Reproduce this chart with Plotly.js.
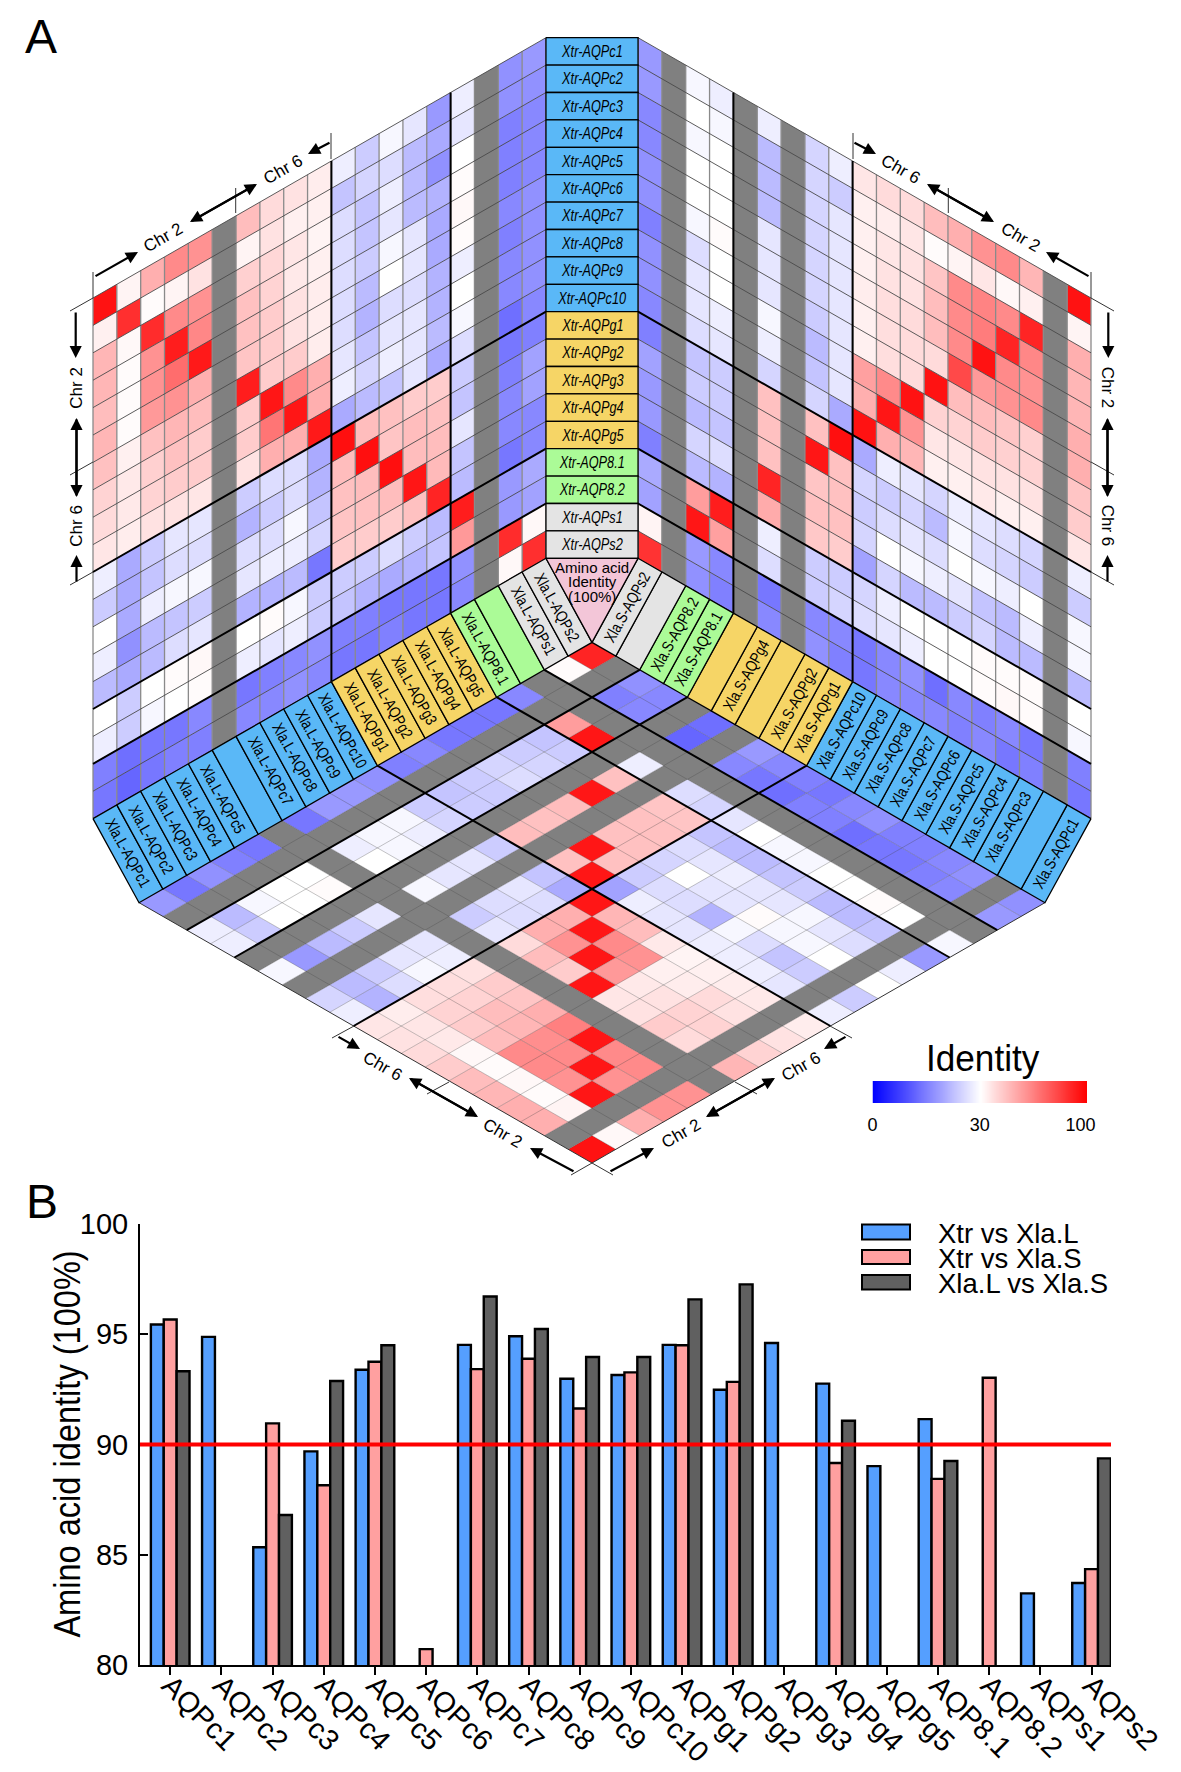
<!DOCTYPE html>
<html><head><meta charset="utf-8">
<script src="https://cdn.plot.ly/plotly-3.0.1.min.js"></script>
<style>html,body{margin:0;padding:0;background:#fff}#c{width:1181px;height:1772px}</style></head>
<body><div id="c"></div>
<script>
var n = null;
var genes = ['AQPc1','AQPc2','AQPc3','AQPc4','AQPc5','AQPc6','AQPc7','AQPc8','AQPc9','AQPc10','AQPg1','AQPg2','AQPg3','AQPg4','AQPg5','AQP8.1','AQP8.2','AQPs1','AQPs2'];
var barXtrL = [95.44,94.88,85.34,89.69,93.39,n,94.52,94.91,92.98,93.15,94.52,92.48,94.6,92.76,89.02,91.15,n,83.25,83.72];
var barXtrS = [95.67,n,90.96,88.15,93.75,80.72,93.42,93.89,91.63,93.27,94.5,92.84,n,89.16,n,88.44,93.03,n,84.35];
var barLS   = [93.32,n,86.8,92.88,94.5,n,96.71,95.24,93.97,93.97,96.58,97.26,n,91.08,n,89.25,n,n,89.37];
var threshold = 90;
var blankL = ['AQPc6','AQP8.2'];
var blankS = ['AQPc2','AQPg3','AQPg5','AQPs1'];

// Xtr (rows) vs Xla.L (columns), listed column by column
var leftCols = [
[95,34,50,50,48,50,47,42,40,37,28,24,30,28,22,30,28,15,14],
[33,87,32,31,31,31,34,36,36,35,20,20,20,17,20,24,24,13,12],
[52,31,88,60,60,58,47,43,42,38,24,23,28,22,22,30,29,14,14],
[62,33,62,92,70,60,50,47,44,38,27,26,29,23,26,31,30,14,15],
[60,38,60,63,93,52,48,44,44,37,27,26,29,24,27,32,31,16,15],
n,
[48,33,43,47,47,46,92,44,44,38,24,21,26,27,21,30,28,14,16],
[40,38,41,42,44,44,44,94,68,52,26,24,26,28,21,31,27,15,16],
[38,34,37,36,38,38,44,62,94,52,26,26,29,28,22,29,28,16,17],
[35,34,33,34,35,35,35,52,52,93,20,21,23,25,14,24,24,17,16],
[28,23,26,26,26,26,26,27,28,20,96,48,47,46,44,24,23,15,14],
[24,25,23,23,24,22,21,23,25,22,48,96,48,47,44,24,21,15,14],
[29,26,28,27,29,30,26,27,28,23,47,46,96,48,44,26,20,14,15],
[27,22,22,22,27,27,26,27,27,27,44,48,48,94,47,24,21,14,14],
[18,20,17,21,20,20,21,21,22,20,44,47,48,49,90,22,23,14,14],
[28,27,30,31,32,31,28,30,29,26,24,23,27,23,22,92,58,17,16],
n,
[17,17,15,15,15,16,15,16,16,13,14,15,16,16,14,18,18,88,32],
[18,17,16,16,16,17,17,17,17,16,15,19,19,16,16,20,19,32,87]];

// Xtr (rows) vs Xla.S (columns), listed column by column
var rightCols = [
[95,33,52,50,50,52,52,46,44,37,28,24,29,29,22,30,29,15,14],
n,
[50,34,90,63,60,62,43,42,38,34,25,24,30,28,22,31,31,14,15],
[62,32,62,90,62,60,46,43,38,34,26,25,28,22,22,31,32,16,14],
[60,37,64,66,95,58,48,44,38,36,27,26,29,23,25,31,31,15,16],
[52,33,62,62,62,80,48,42,37,34,28,29,30,27,24,30,30,16,15],
[48,31,46,48,48,40,95,42,37,34,25,22,26,28,22,30,30,13,16],
[40,37,38,38,40,40,40,95,60,50,27,25,27,29,22,30,28,17,16],
[40,35,37,38,39,39,39,62,94,52,28,24,26,30,25,28,27,16,16],
[37,34,34,34,35,34,34,56,52,95,20,25,24,25,19,25,26,14,14],
[28,24,27,27,27,27,27,27,27,20,96,47,47,47,44,24,25,16,15],
[25,25,25,25,25,25,24,22,23,25,47,94,46,47,45,24,24,16,17],
n,
[28,22,22,22,27,27,27,29,28,25,47,47,47,90,53,28,26,14,16],
n,
[28,29,30,30,30,31,30,30,28,27,24,24,23,26,21,92,56,16,15],
[29,30,29,30,30,29,26,27,27,26,23,24,22,25,22,57,94,18,17],
n,
[18,18,16,16,17,17,15,17,17,16,15,19,18,18,15,20,19,33,86]];

// Xla.L (rows) vs Xla.S (columns)
var bottomRows = [
[95,n,52,52,50,48,44,40,38,37,28,25,n,29,n,28,28,n,18],
[32,n,33,31,32,31,32,36,37,35,21,22,n,18,n,24,22,n,14],
[52,n,94,60,62,62,48,44,42,39,26,24,n,22,n,30,29,n,17],
[60,n,60,94,62,61,50,48,42,39,29,27,n,24,n,30,30,n,15],
[60,n,62,62,94,65,52,46,44,38,28,27,n,27,n,31,30,n,14],
n,
[50,n,40,44,38,37,94,44,48,40,27,24,n,29,n,30,28,n,14],
[42,n,42,42,38,36,58,94,60,52,26,26,n,27,n,29,29,n,18],
[38,n,38,40,35,34,60,62,94,52,26,27,n,27,n,28,29,n,18],
[35,n,36,35,34,33,36,48,50,94,20,23,n,24,n,25,24,n,17],
[28,n,27,28,28,28,27,27,28,19,94,47,n,48,n,24,23,n,15],
[24,n,24,23,26,29,21,26,26,24,47,94,n,47,n,24,24,n,16],
[30,n,30,29,29,31,27,27,30,25,47,47,n,48,n,26,25,n,14],
[28,n,26,27,29,27,27,28,27,26,47,47,n,94,n,25,24,n,14],
[18,n,23,22,22,24,23,22,22,23,46,46,n,47,n,24,23,n,14],
[29,n,30,31,30,30,29,29,30,27,25,26,n,28,n,94,57,n,16],
n,
[18,n,16,15,14,14,13,15,15,13,14,16,n,12,n,16,15,n,31],
[17,n,17,16,15,15,17,16,14,15,16,18,n,13,n,16,17,n,90]];

var scaleStops = [0,3,6,9,12,15,18,21,24,27,30,37,44,51,58,65,72,79,86,93,100];
var scaleLabels = ['0','30','100'];

// ---- projection of matrix indices on the page (isometric faces)
var N = genes.length, dx = 23.84, hs = 13.7, rowH = 27.4, mid = 592;
function leftPt(c,r){ return [93+c*dx, 298-c*hs+r*rowH]; }
function rightPt(c,r){ return [2*mid-93-c*dx, 298-c*hs+r*rowH]; }
function botPt(i,j){ return [mid+(i-j)*dx, 1163-(i+j)*hs]; }
function colorOf(v){
  if(v===null) return '#808080';
  if(v<=30){ var a=Math.round(255*v/30); return 'rgb('+a+','+a+',255)'; }
  var b=Math.round(255*(1-(v-30)/70)); return 'rgb(255,'+b+','+b+')';
}
function grpColor(k){ return k<10?'#5AB8F7':k<15?'#F6D566':k<17?'#ABFB97':'#E4E4E4'; }
var FONT='"Liberation Sans", Arial, sans-serif';

var buckets = {};
function addPoly(key,pts){
  var b = buckets[key] || (buckets[key]={x:[],y:[]});
  pts.forEach(function(p){b.x.push(p[0]);b.y.push(p[1]);});
  b.x.push(pts[0][0],null); b.y.push(pts[0][1],null);
}
for(var c=0;c<N;c++) for(var r=0;r<N;r++){
  var lv = leftCols[c]?leftCols[c][r]:null, rv = rightCols[c]?rightCols[c][r]:null;
  addPoly(colorOf(lv),[leftPt(c,r),leftPt(c+1,r),leftPt(c+1,r+1),leftPt(c,r+1)]);
  addPoly(colorOf(rv),[rightPt(c,r),rightPt(c+1,r),rightPt(c+1,r+1),rightPt(c,r+1)]);
  var bv = bottomRows[c]?bottomRows[c][r]:null;
  addPoly(colorOf(bv),[botPt(c,r),botPt(c+1,r),botPt(c+1,r+1),botPt(c,r+1)]);
}
var traces = [];
Object.keys(buckets).forEach(function(k){
  traces.push({type:'scatter',mode:'lines',x:buckets[k].x,y:buckets[k].y,fill:'toself',fillcolor:k,
    line:{width:0,color:k,simplify:false},hoverinfo:'skip',showlegend:false});
});
function lineTrace(segs,color,w){
  var x=[],y=[];
  segs.forEach(function(s){ s.forEach(function(p){x.push(p[0]);y.push(p[1]);}); x.push(null);y.push(null); });
  traces.push({type:'scatter',mode:'lines',x:x,y:y,line:{color:color,width:w,simplify:false},hoverinfo:'skip',showlegend:false});
}
var rowsSeg=[],colsSeg=[],botSeg=[],thick=[],outerB=[];
var blocks=[10,15,17];
for(var k=0;k<=N;k++){
  rowsSeg.push([leftPt(0,k),leftPt(N,k)],[rightPt(0,k),rightPt(N,k)]);
  colsSeg.push([leftPt(k,0),leftPt(k,N)],[rightPt(k,0),rightPt(k,N)]);
  if(k>0&&k<N) botSeg.push([botPt(k,0),botPt(k,N)],[botPt(0,k),botPt(N,k)]);
}
blocks.forEach(function(k){
  thick.push([leftPt(0,k),leftPt(N,k)],[rightPt(0,k),rightPt(N,k)],[botPt(k,0),botPt(k,N)],[botPt(0,k),botPt(N,k)]);
});
[10,15].forEach(function(k){ thick.push([leftPt(k,0),leftPt(k,N)],[rightPt(k,0),rightPt(k,N)]); });
outerB.push([botPt(N,0),botPt(0,0),botPt(0,N)]);
lineTrace(colsSeg,'#8a8a8a',1.3);
lineTrace(rowsSeg,'#4a4a4a',0.9);
lineTrace(botSeg,'rgba(70,70,70,0.4)',0.8);
lineTrace(outerB,'#333',1);
lineTrace(thick,'#000',2);

// label bands
var anns=[];
function addAnn(x,y,t,size,angle){
  anns.push({x:x,y:y,xref:'x',yref:'y',text:t,showarrow:false,textangle:angle||0,
    font:{family:FONT,size:size,color:'#000'},xanchor:'center',yanchor:'middle'});
}
function fillPoly(pts,color){
  var x=pts.map(function(p){return p[0];}),y=pts.map(function(p){return p[1];});
  x.push(x[0]);y.push(y[0]);
  traces.push({type:'scatter',mode:'lines',x:x,y:y,fill:'toself',fillcolor:color,line:{color:'#000',width:1.3},hoverinfo:'skip',showlegend:false});
}
function centroid(p){var a=0,b=0;p.forEach(function(q){a+=q[0];b+=q[1];});return [a/p.length,b/p.length];}
for(var k=0;k<N;k++){
  var mp=[leftPt(N,k),rightPt(N,k),rightPt(N,k+1),leftPt(N,k+1)];
  fillPoly(mp,grpColor(k));
  var cc=centroid(mp);
  addAnn(cc[0],cc[1],'<i>Xtr-'+genes[k]+'</i>',17,0);
  var lp=[leftPt(k,N),leftPt(k+1,N),botPt(k+1,N),botPt(k,N)];
  fillPoly(lp,grpColor(k));
  if(blankL.indexOf(genes[k])<0){ cc=centroid(lp); addAnn(cc[0],cc[1],'Xla.L-'+genes[k],16,61); }
  var rp=[rightPt(k,N),rightPt(k+1,N),botPt(N,k+1),botPt(N,k)];
  fillPoly(rp,grpColor(k));
  if(blankS.indexOf(genes[k])<0){ cc=centroid(rp); addAnn(cc[0],cc[1],'Xla.S-'+genes[k],16,-61); }
}
fillPoly([leftPt(N,N),rightPt(N,N),botPt(N,N)],'#F3C6D8');
addAnn(mid,567,'Amino acid',15); addAnn(mid,581,'Identity',15); addAnn(mid,596,'(100%)',15);

// chromosome brackets (left half, mirrored on the right)
function mx(x){return 2*mid-x;}
var tickSeg=[];
[[93,272,93,298],[235.7,188,235.7,213],[331,133,331,159],[70,311,93,298],[70,475,93,462],[70,585,93,572],
 [332,1038,354,1026],[427,1094,449,1082],[571,1175,592,1163]].forEach(function(t){
  tickSeg.push([[t[0],t[1]],[t[2],t[3]]]); tickSeg.push([[mx(t[0]),t[1]],[mx(t[2]),t[3]]]);
});
lineTrace(tickSeg,'#333',1);
function arrow(x0,y0,x1,y1){
  [0,1].forEach(function(m){
    anns.push({x:m?mx(x1):x1,y:y1,ax:m?mx(x0):x0,ay:y0,xref:'x',yref:'y',axref:'x',ayref:'y',text:'',showarrow:true,arrowhead:2,arrowsize:1.1,arrowwidth:2.2,arrowcolor:'#000',standoff:0,startstandoff:0});
  });
}
function darrow(x0,y0,x1,y1){
  arrow(x0,y0,x1,y1); arrow(x1,y1,x0,y0);
}
arrow(94,277,138,252); darrow(190,222,257,184); arrow(331,142,308,154);
arrow(75.7,311,75.7,358); darrow(76.5,418,76.5,497); arrow(76.5,583,76.5,555);
arrow(337,1036,360,1049); darrow(409,1078,478,1117); arrow(575,1172,530,1148);
[[163,237,-30,'Chr 2'],[283,169,-30,'Chr 6'],[75.7,388,-90,'Chr 2'],[75.7,526,-90,'Chr 6'],[383,1066,30,'Chr 6'],[503,1133,30,'Chr 2']].forEach(function(t){
  addAnn(t[0],t[1],t[3],17,t[2]); addAnn(mx(t[0]),t[1],t[3],17,t[2]===-90?90:-t[2]);
});
addAnn(41,36,'A',48); addAnn(42,1201,'B',48);
addAnn(983,1058,'Identity',37);

// colour legend strip
traces.push({type:'heatmap',xaxis:'x3',yaxis:'y3',z:[scaleStops],zsmooth:'best',zmin:0,zmax:100,
  colorscale:[[0,'#0000FF'],[0.3,'#FFFFFF'],[1,'#FF0000']],showscale:false,hoverinfo:'skip'});

// bars
function barTrace(name,vals,color){
  traces.push({type:'bar',name:name,x:genes,y:vals,xaxis:'x2',yaxis:'y2',marker:{color:color,line:{color:'#000',width:2.4}},showlegend:false,hoverinfo:'skip'});
}
var legendRows=[['Xtr vs Xla.L','#559FFF',1224.5,1239.5,1233],['Xtr vs Xla.S','#FFA0A0',1250,1264,1258],['Xla.L vs Xla.S','#606060',1275,1289.5,1283]];
barTrace(legendRows[0][0],barXtrL,'#559FFF');
barTrace(legendRows[1][0],barXtrS,'#FFA0A0');
barTrace(legendRows[2][0],barLS,'#606060');

var shapes=[{type:'line',xref:'x2 domain',yref:'y2',x0:0,x1:1,y0:threshold,y1:threshold,line:{color:'#FF0000',width:4},layer:'above'}];
legendRows.forEach(function(l){
  shapes.push({type:'rect',xref:'x',yref:'y',x0:862,x1:910,y0:l[2],y1:l[3],fillcolor:l[1],line:{color:'#000',width:2}});
  anns.push({x:936,y:l[4],xref:'x',yref:'y',text:l[0],showarrow:false,xanchor:'left',yanchor:'middle',font:{family:FONT,size:27.5,color:'#000'}});
});
anns.push({x:67,y:1444,xref:'x',yref:'y',text:'Amino acid identity (100%)',textangle:-90,showarrow:false,font:{family:FONT,size:37,color:'#000'}});

var W=1181,H=1772;
var layout={width:W,height:H,margin:{l:0,r:0,t:0,b:0},paper_bgcolor:'#fff',plot_bgcolor:'rgba(0,0,0,0)',showlegend:false,
  xaxis:{range:[0,W],visible:false,fixedrange:true},
  yaxis:{range:[H,0],visible:false,fixedrange:true},
  xaxis2:{type:'category',domain:[140/W,1111/W],anchor:'y2',range:[-0.59,18.38],showgrid:false,zeroline:false,showline:true,linecolor:'#000',linewidth:2,
    ticks:'outside',ticklen:8,tickwidth:2,tickcolor:'#000',tickangle:45,ticklabelstandoff:-18,tickfont:{family:FONT,size:29,color:'#000'},automargin:false},
  yaxis2:{domain:[1-1665/H,1-1224/H],anchor:'x2',range:[80,100],tickvals:[80,85,90,95,100],showgrid:false,zeroline:false,showline:true,linecolor:'#000',linewidth:2,
    ticks:'inside',ticklen:8,tickwidth:2,tickcolor:'#000',ticklabelstandoff:4,tickfont:{family:FONT,size:29,color:'#000'},automargin:false},
  xaxis3:{domain:[872.5/W,1087/W],anchor:'y3',range:[0,20],showgrid:false,zeroline:false,showline:false,tickvals:[0,10,19.4],ticktext:scaleLabels,
    ticks:'outside',ticklen:5,tickcolor:'rgba(0,0,0,0)',tickfont:{family:FONT,size:18,color:'#000'}},
  yaxis3:{domain:[1-1103/H,1-1081/H],anchor:'x3',range:[-0.5,0.5],visible:false,fixedrange:true},
  barmode:'group',bargap:0.245,bargroupgap:0,
  annotations:anns,shapes:shapes};
// the reference's labels are drawn in a condensed cut; squeeze them to their measured lengths
function condense(){
  document.querySelectorAll('.annotation-text').forEach(function(el){
    var t=el.textContent, ratio=0;
    if(/^Xtr-/.test(t)) ratio=0.75;
    else if(/^Xla\.[LS]-/.test(t)) ratio=0.82;
    else if(/^Amino acid identity/.test(t)) ratio=0.88;
    else if(t==='Identity'&&parseFloat(el.style.fontSize)>20) ratio=0.95;
    if(ratio){ el.setAttribute('textLength',(el.getComputedTextLength()*ratio).toFixed(1)); el.setAttribute('lengthAdjust','spacingAndGlyphs'); }
  });
}
Plotly.newPlot('c',traces,layout,{displayModeBar:false,staticPlot:true}).then(condense);
</script></body></html>
